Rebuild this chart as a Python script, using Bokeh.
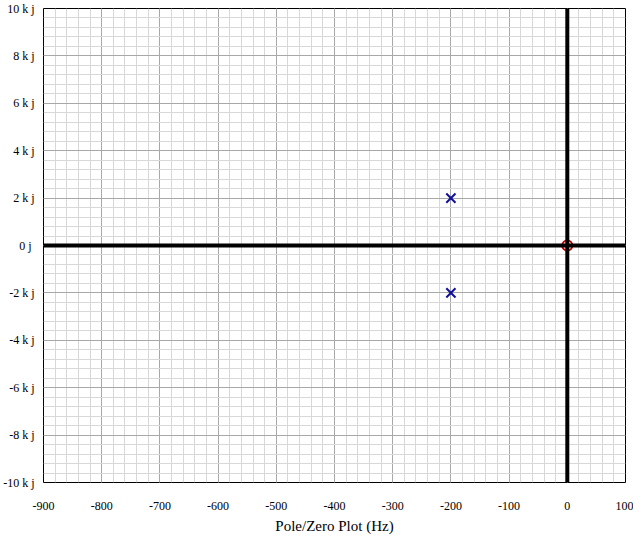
from bokeh.plotting import figure
from bokeh.models import Range1d, FixedTicker, Span
from bokeh.embed import file_html
from bokeh.resources import INLINE

# Data
pole_re = [-200, -200]
pole_im = [2000, -2000]
zero_re = [0]
zero_im = [0]

x_ticks = [-900, -800, -700, -600, -500, -400, -300, -200, -100, 0, 100]
x_tick_labels = ["-900", "-800", "-700", "-600", "-500", "-400", "-300", "-200", "-100", "0", "100"]
y_ticks = [-10000, -8000, -6000, -4000, -2000, 0, 2000, 4000, 6000, 8000, 10000]
y_tick_labels = ["-10 k j", "-8 k j", "-6 k j", "-4 k j", "-2 k j", "0  j", "2 k j", "4 k j", "6 k j", "8 k j", "10 k j"]
x_minor = list(range(-900, 101, 20))
y_minor = list(range(-10000, 10001, 400))

FONT = "Liberation Serif"

p = figure(frame_width=582, frame_height=474, output_backend="svg", toolbar_location=None,
           x_range=Range1d(-900, 100), y_range=Range1d(-10000, 10000),
           min_border_left=40, min_border_top=8, min_border_right=8, min_border_bottom=47,
           background_fill_color="white", border_fill_color="white")

p.outline_line_color = "black"
p.outline_line_width = 1

p.xaxis.ticker = FixedTicker(ticks=x_ticks, minor_ticks=x_minor)
p.yaxis.ticker = FixedTicker(ticks=y_ticks, minor_ticks=y_minor)
p.xaxis.major_label_overrides = {t: l for t, l in zip(x_ticks, x_tick_labels)}
p.yaxis.major_label_overrides = {t: l for t, l in zip(y_ticks, y_tick_labels)}

for ax in (p.xaxis, p.yaxis):
    ax.axis_line_color = None
    ax.major_tick_line_color = None
    ax.minor_tick_line_color = None
    ax.major_label_text_font = FONT
    ax.major_label_text_font_size = "12px"
    ax.major_label_text_color = "black"

p.xaxis.major_label_standoff = 13
p.yaxis.major_label_standoff = 3
p.xaxis.axis_label = "Pole/Zero Plot (Hz)"
p.xaxis.axis_label_text_font = FONT
p.xaxis.axis_label_text_font_size = "15px"
p.xaxis.axis_label_text_font_style = "normal"
p.xaxis.axis_label_standoff = 5
p.xaxis.axis_label_text_color = "black"

for g in (p.xgrid, p.ygrid):
    g.grid_line_color = "#a8a8a8"
    g.grid_line_width = 1
    g.minor_grid_line_color = "#d8d8d8"
    g.minor_grid_line_width = 1
    g.level = "underlay"

p.add_layout(Span(location=0, dimension="width", line_color="black", line_width=4))
p.add_layout(Span(location=0, dimension="height", line_color="black", line_width=4))

p.scatter(pole_re, pole_im, marker="x", size=13, line_width=2, line_color="#10109a")
p.scatter(zero_re, zero_im, marker="circle", size=10, line_width=2, line_color="#c00000", fill_color=None)

open("out.html", "w").write(file_html(p, INLINE))
